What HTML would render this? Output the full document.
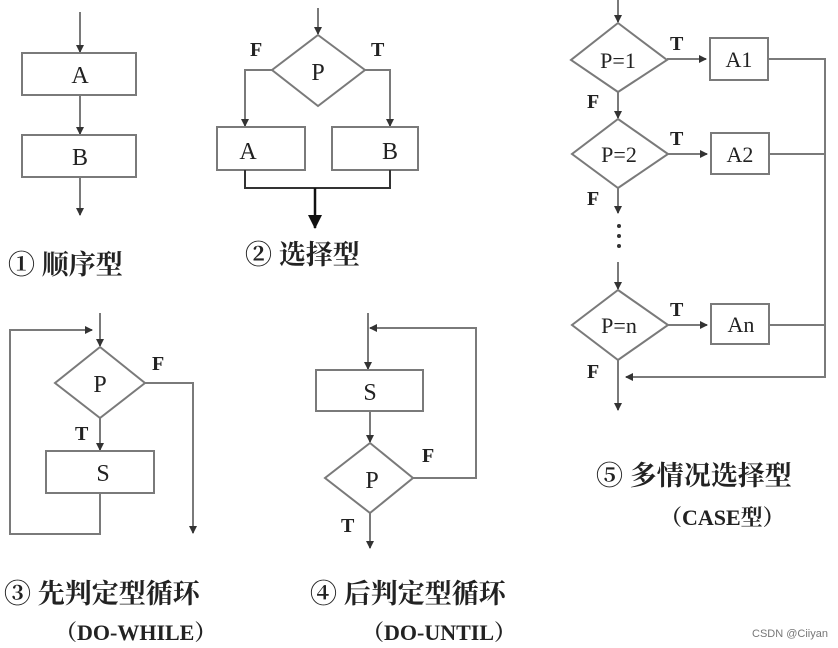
<!DOCTYPE html>
<html><head><meta charset="utf-8"><style>
html,body{margin:0;padding:0;background:#fff;}
svg{display:block;}
text{font-family:"Liberation Serif","Noto Serif CJK SC",serif;fill:#222;}
.cn{font-family:"Liberation Serif","Noto Serif CJK SC","Noto Sans CJK SC",serif;font-weight:bold;fill:#333;}
</style></head><body>
<svg width="838" height="648" viewBox="0 0 838 648" xmlns="http://www.w3.org/2000/svg">
<defs>
<marker id="a" markerWidth="8" markerHeight="8" refX="7" refY="4" orient="auto" markerUnits="userSpaceOnUse"><path d="M0,0 L8,4 L0,8 z" fill="#333"/></marker>
<marker id="b" markerWidth="14" markerHeight="14" refX="13" refY="7" orient="auto" markerUnits="userSpaceOnUse"><path d="M0,0 L14,7 L0,14 z" fill="#111"/></marker>
</defs>
<g stroke="#7a7a7a" stroke-width="2" fill="none">
<!-- panel 1 -->
<line x1="80" y1="12" x2="80" y2="52" marker-end="url(#a)"/>
<rect x="22" y="53" width="114" height="42"/>
<line x1="80" y1="95" x2="80" y2="134" marker-end="url(#a)"/>
<rect x="22" y="135" width="114" height="42"/>
<line x1="80" y1="177" x2="80" y2="215" marker-end="url(#a)"/>
<!-- panel 2 -->
<line x1="318" y1="8" x2="318" y2="34" marker-end="url(#a)"/>
<polygon points="318,35 365,70 318,106 272,70"/>
<polyline points="272,70 245,70 245,126" marker-end="url(#a)"/>
<polyline points="365,70 390,70 390,126" marker-end="url(#a)"/>
<rect x="217" y="127" width="88" height="43"/>
<rect x="332" y="127" width="86" height="43"/>
<polyline points="245,170 245,188 390,188 390,170" stroke="#333"/>
<line x1="315" y1="188" x2="315" y2="228" stroke="#111" stroke-width="2.5" marker-end="url(#b)"/>
<!-- panel 3 -->
<line x1="100" y1="313" x2="100" y2="346" marker-end="url(#a)"/>
<polygon points="100,347 145,383 100,418 55,383"/>
<polyline points="145,383 193,383 193,533" marker-end="url(#a)"/>
<line x1="100" y1="418" x2="100" y2="450" marker-end="url(#a)"/>
<rect x="46" y="451" width="108" height="42"/>
<polyline points="100,493 100,534 10,534 10,330 92,330" marker-end="url(#a)"/>
<!-- panel 4 -->
<line x1="368" y1="313" x2="368" y2="369" marker-end="url(#a)"/>
<rect x="316" y="370" width="107" height="41"/>
<line x1="370" y1="411" x2="370" y2="442" marker-end="url(#a)"/>
<polygon points="370,443 413,478 370,513 325,478"/>
<polyline points="413,478 476,478 476,328 370,328" marker-end="url(#a)"/>
<line x1="370" y1="513" x2="370" y2="548" marker-end="url(#a)"/>
<!-- panel 5 -->
<line x1="618" y1="0" x2="618" y2="22" marker-end="url(#a)"/>
<polygon points="618,23 667,60 618,92 571,60"/>
<line x1="667" y1="59" x2="706" y2="59" marker-end="url(#a)"/>
<rect x="710" y="38" width="58" height="42"/>
<line x1="618" y1="92" x2="618" y2="118" marker-end="url(#a)"/>
<polygon points="618,119 668,154 618,188 572,154"/>
<line x1="668" y1="154" x2="707" y2="154" marker-end="url(#a)"/>
<rect x="711" y="133" width="58" height="41"/>
<line x1="618" y1="188" x2="618" y2="213" marker-end="url(#a)"/>
<line x1="618" y1="262" x2="618" y2="289" marker-end="url(#a)"/>
<polygon points="618,290 668,325 618,360 572,325"/>
<line x1="668" y1="325" x2="707" y2="325" marker-end="url(#a)"/>
<rect x="711" y="304" width="58" height="40"/>
<polyline points="768,59 825,59 825,377 626,377" marker-end="url(#a)"/>
<line x1="769" y1="154" x2="825" y2="154"/>
<line x1="769" y1="325" x2="825" y2="325"/>
<line x1="618" y1="360" x2="618" y2="410" marker-end="url(#a)"/>
</g>
<g fill="#333">
<circle cx="619" cy="226" r="2"/><circle cx="619" cy="236" r="2"/><circle cx="619" cy="246" r="2"/>
</g>
<g font-size="24" text-anchor="middle">
<text x="80" y="83">A</text><text x="80" y="165">B</text>
<text x="318" y="80">P</text><text x="248" y="159">A</text><text x="390" y="159">B</text>
<text x="100" y="392">P</text><text x="103" y="481">S</text>
<text x="370" y="400">S</text><text x="372" y="488">P</text>
</g>
<g font-size="22" text-anchor="middle">
<text x="618" y="68">P=1</text><text x="739" y="67">A1</text>
<text x="619" y="162">P=2</text><text x="740" y="162">A2</text>
<text x="619" y="333">P=n</text><text x="741" y="332">An</text>
</g>
<g font-size="20" font-weight="bold">
<text x="250" y="56">F</text><text x="371" y="56">T</text>
<text x="152" y="370">F</text><text x="75" y="440">T</text>
<text x="422" y="462">F</text><text x="341" y="532">T</text>
<text x="670" y="50">T</text><text x="670" y="145">T</text><text x="670" y="316">T</text>
<text x="587" y="108">F</text><text x="587" y="205">F</text><text x="587" y="378">F</text>
</g>
<g class="cn" font-size="27">
<text x="8" y="274">① 顺序型</text>
<text x="245" y="264">② 选择型</text>
<text x="4" y="603">③ 先判定型循环</text>
<text x="310" y="603">④ 后判定型循环</text>
<text x="596" y="485">⑤ 多情况选择型</text>
</g>
<g class="cn" font-size="22">
<text x="55" y="640">（DO-WHILE）</text>
<text x="362" y="640">（DO-UNTIL）</text>
<text x="660" y="525">（CASE型）</text>
</g>
<text x="752" y="637" font-size="11" style="font-family:'Liberation Sans',sans-serif;fill:#777">CSDN @Ciiyan</text>
</svg>
</body></html>
